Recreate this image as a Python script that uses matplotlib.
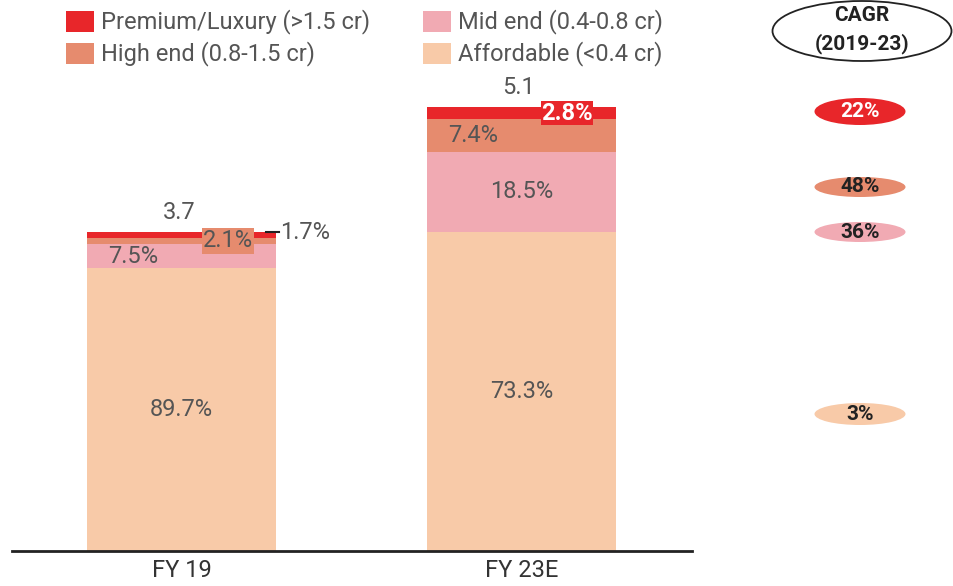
import matplotlib.pyplot as plt
from matplotlib.patches import Ellipse, Rectangle

# market size (total) and segment shares, bottom to top
years = ["FY 19", "FY 23E"]
totals = [3.7, 5.1]
segments = ["Affordable (<0.4 cr)", "Mid end (0.4-0.8 cr)",
            "High end (0.8-1.5 cr)", "Premium/Luxury (>1.5 cr)"]
share_fy19 = [89.7, 7.5, 2.1, 1.7]
share_fy23 = [73.3, 18.5, 7.4, 2.8]
cagr = ["3%", "36%", "48%", "22%"]

colors = ["#F8CAA8", "#F1AAB3", "#E68B6E", "#E8262A"]
text_col = "#555555"

plt.rcParams['font.family'] = ['Roboto', 'DejaVu Sans']

W, H = 954, 586
fig = plt.figure(figsize=(W / 100, H / 100), dpi=100)

# main axes: baseline at y=551 px, 85.3 px per unit
ax = fig.add_axes([12 / W, 35 / H, 680 / W, 5.9 * 85.3 / H])
ax.set_xlim(-0.4985, 1.5015)
ax.set_ylim(0, 5.9)

bw = 0.556
shares = [share_fy19, share_fy23]
for i, sh in enumerate(shares):
    bottom = 0
    for j, s in enumerate(sh):
        h = totals[i] * s / 100
        ax.bar(i, h, bw, bottom=bottom, color=colors[j], linewidth=0)
        bottom += h

for sp in ["top", "right", "left"]:
    ax.spines[sp].set_visible(False)
ax.spines["bottom"].set_linewidth(2)
ax.spines["bottom"].set_color("#222222")
ax.set_yticks([])
ax.set_xticks([0, 1])
ax.set_xticklabels(years, fontsize=17, color="#333333")
ax.tick_params(axis="x", length=0, pad=6)

def seg_mid(i, j):
    sh = shares[i]
    lo = totals[i] * sum(sh[:j]) / 100
    return lo + totals[i] * sh[j] / 200

def bar_top(i):
    return totals[i] * sum(shares[i]) / 100

fs = 17
# totals above bars
for i in range(2):
    ax.annotate(f"{totals[i]}", (i, bar_top(i)), xytext=(-2, 14.5),
                textcoords="offset points", ha="center", va="center",
                fontsize=fs, color=text_col)

# FY19 labels
ax.text(0, seg_mid(0, 0), f"{share_fy19[0]}%", ha="center", va="center",
        fontsize=fs, color=text_col)
ax.text(-0.143, seg_mid(0, 1), f"{share_fy19[1]}%", ha="center", va="center",
        fontsize=fs, color=text_col)
ax.text(0.137, seg_mid(0, 2), f"{share_fy19[2]}%", ha="center", va="center",
        fontsize=fs, color=text_col,
        bbox=dict(boxstyle="square,pad=0.05", fc=colors[2], ec="none"))
ax.plot([bw / 2 - 0.03, bw / 2 + 0.01], [seg_mid(0, 3) + 0.03] * 2,
        color="#222222", lw=1.5)
ax.text(bw / 2 + 0.012, seg_mid(0, 3) + 0.03, f"{share_fy19[3]}%", ha="left",
        va="center", fontsize=fs, color=text_col)

# FY23E labels
ax.text(1, seg_mid(1, 0), f"{share_fy23[0]}%", ha="center", va="center",
        fontsize=fs, color=text_col)
ax.text(1, seg_mid(1, 1), f"{share_fy23[1]}%", ha="center", va="center",
        fontsize=fs, color=text_col)
ax.text(1 - 0.143, seg_mid(1, 2), f"{share_fy23[2]}%", ha="center",
        va="center", fontsize=fs, color=text_col)
ax.text(1.134, seg_mid(1, 3), f"{share_fy23[3]}%", ha="center", va="center",
        fontsize=fs, color="white", fontweight="bold",
        bbox=dict(boxstyle="square,pad=0.02", fc=colors[3], ec="none"))

# overlay in pixel coordinates for legend and CAGR column
ov = fig.add_axes([0, 0, 1, 1])
ov.set_xlim(0, W)
ov.set_ylim(H, 0)
ov.axis("off")

legend_pos = [(423, 54), (423, 22), (66, 54), (66, 22)]
for j in range(4):
    x, y = legend_pos[j]
    ov.add_patch(Rectangle((x, y - 11), 28, 21, color=colors[j], lw=0))
    ov.text(x + 35, y, segments[j], ha="left", va="center", fontsize=17,
            color=text_col)

ov.add_patch(Ellipse((862, 31), 179, 60, fill=False, ec="#222222", lw=1.3))
ov.text(862, 30, "CAGR\n(2019-23)", ha="center", va="center", fontsize=15,
        fontweight="bold", color="#222222", linespacing=1.5)

cagr_y = [414, 232, 187, 111.5]
cagr_h = [22, 20, 20, 27]
for j in range(4):
    ov.add_patch(Ellipse((860, cagr_y[j]), 91, cagr_h[j], color=colors[j], lw=0))
    ov.text(860, cagr_y[j], cagr[j], ha="center", va="center", fontsize=15,
            fontweight="bold", color="white" if j == 3 else "#222222")

fig.savefig("out.png", dpi=100)
